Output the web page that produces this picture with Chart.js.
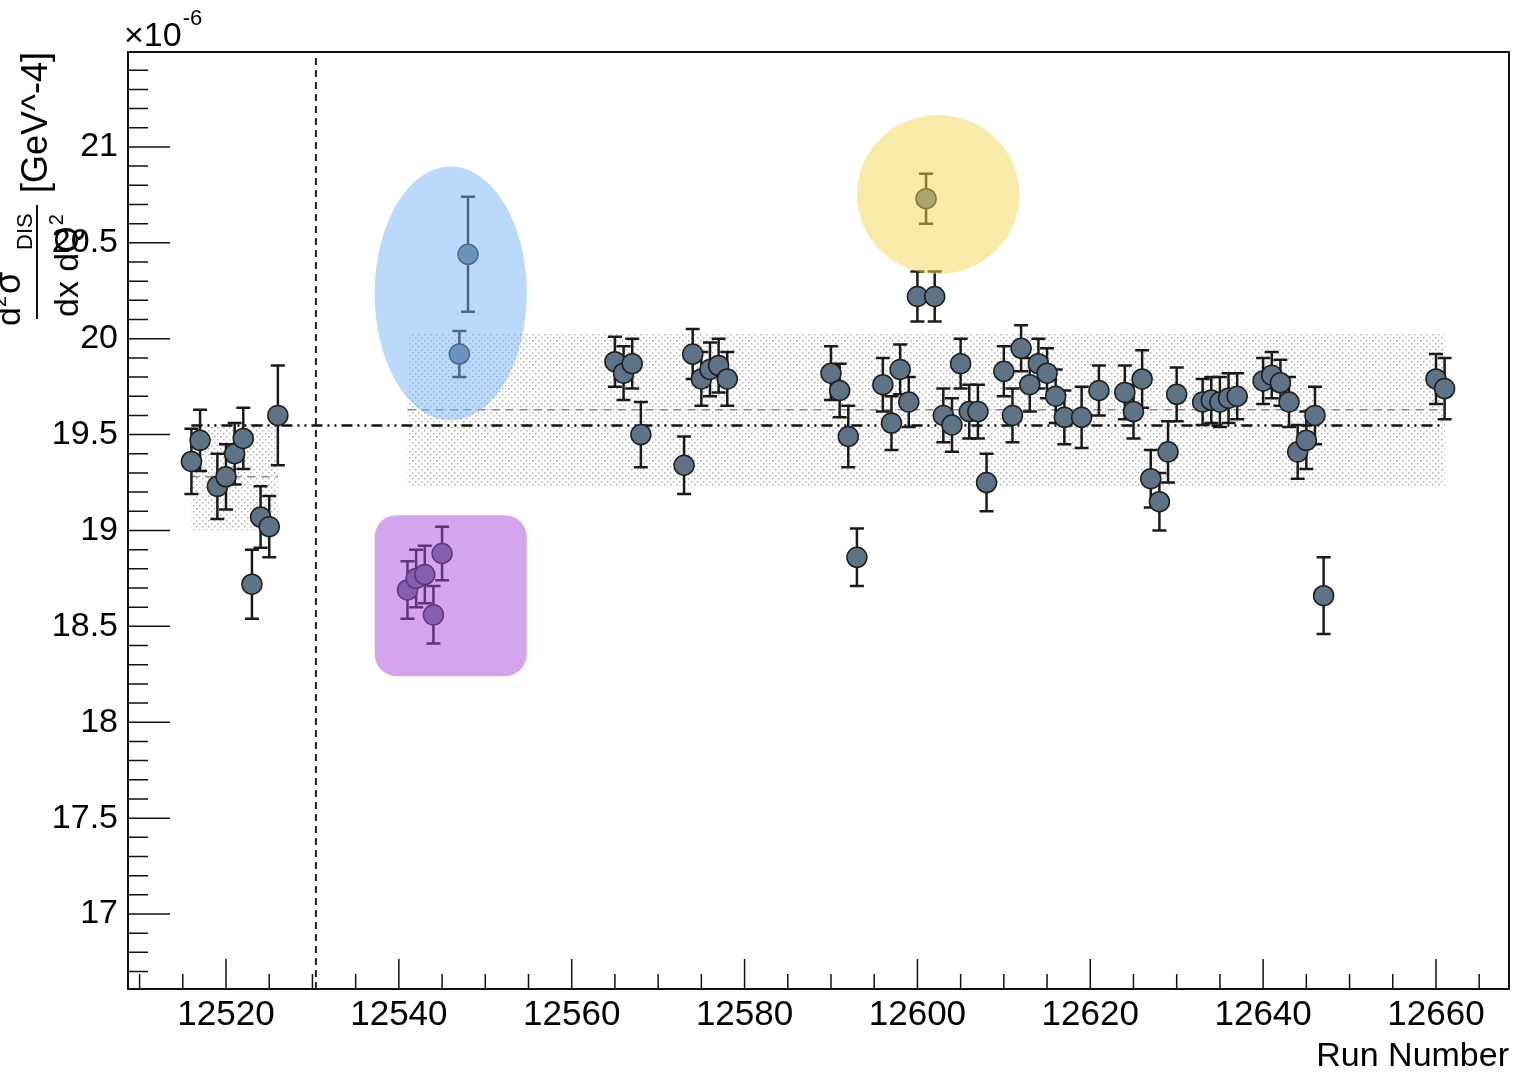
<!DOCTYPE html>
<html>
<head>
<meta charset="utf-8">
<script src="https://cdn.jsdelivr.net/npm/chart.js@4.4.1/dist/chart.umd.min.js"></script>
<style>
  html, body { margin: 0; padding: 0; background: #fff; overflow: hidden; }
  #wrap { width: 1514px; height: 1078px; }
  canvas { display: block; }
</style>
</head>
<body>
<div id="wrap"><canvas id="chart" width="1514" height="1078"></canvas></div>
<script>
// d2sigma/dxdQ2 per run, in units of 1e-6 GeV^-4
const earlyRuns   = [12516, 12517, 12519, 12520, 12521, 12522, 12523, 12524, 12525, 12526];
const earlyValues = [19.36, 19.47, 19.23, 19.28, 19.40, 19.48, 18.72, 19.07, 19.02, 19.60];
const earlyErrors = [0.17, 0.16, 0.17, 0.17, 0.16, 0.16, 0.18, 0.16, 0.16, 0.26];

const runs = [
  12541, 12542, 12543, 12544, 12545, 12547, 12548,
  12565, 12566, 12567, 12568, 12573, 12574, 12575, 12576, 12577, 12578,
  12590, 12591, 12592, 12593, 12596, 12597, 12598, 12599, 12600, 12601, 12602,
  12603, 12604, 12605, 12606, 12607, 12608, 12610, 12611, 12612, 12613, 12614,
  12615, 12616, 12617, 12619, 12621, 12624, 12625, 12626, 12627, 12628, 12629,
  12630, 12633, 12634, 12635, 12636, 12637, 12640, 12641, 12642, 12643, 12644,
  12645, 12646, 12647, 12660, 12661
];
const values = [
  18.69, 18.75, 18.77, 18.56, 18.88, 19.92, 20.44,
  19.88, 19.82, 19.87, 19.50, 19.34, 19.92, 19.79, 19.84, 19.86, 19.79,
  19.82, 19.73, 19.49, 18.86, 19.76, 19.56, 19.84, 19.67, 20.22, 20.73, 20.22,
  19.60, 19.55, 19.87, 19.62, 19.62, 19.25, 19.83, 19.60, 19.95, 19.76, 19.87,
  19.82, 19.70, 19.59, 19.59, 19.73, 19.72, 19.62, 19.79, 19.27, 19.15, 19.41,
  19.71, 19.67, 19.68, 19.67, 19.69, 19.70, 19.78, 19.81, 19.77, 19.67, 19.41,
  19.47, 19.60, 18.66, 19.79, 19.74
];
const errors = [
  0.15, 0.15, 0.15, 0.15, 0.14, 0.12, 0.30,
  0.13, 0.14, 0.13, 0.17, 0.15, 0.13, 0.14, 0.14, 0.14, 0.14,
  0.14, 0.14, 0.16, 0.15, 0.14, 0.14, 0.13, 0.13, 0.13, 0.13, 0.13,
  0.14, 0.14, 0.13, 0.14, 0.14, 0.15, 0.13, 0.14, 0.12, 0.14, 0.13,
  0.13, 0.14, 0.14, 0.16, 0.13, 0.14, 0.14, 0.15, 0.15, 0.15, 0.16,
  0.14, 0.12, 0.12, 0.13, 0.13, 0.12, 0.12, 0.12, 0.12, 0.13, 0.14,
  0.15, 0.15, 0.20, 0.13, 0.16
];

const xTicks = [12520, 12540, 12560, 12580, 12600, 12620, 12640, 12660];
const yTicks = [17, 17.5, 18, 18.5, 19, 19.5, 20, 20.5, 21];

// averages drawn as lines and +-spread bands
const earlyMean = 19.28, earlySpread = 0.28;
const mainMean = 19.63, mainSpread = 0.40;
const overallMean = 19.547;
const cutRun = 12530.4;

const FONT = '"Liberation Sans", Arial, Helvetica, sans-serif';

// highlight marks, in data units
const highlights = [
  { shape: 'ellipse', run: 12546.0, val: 20.236, dRun: 8.8, dVal: 0.662, color: 'rgba(120,180,245,0.5)' },
  { shape: 'ellipse', run: 12602.4, val: 20.752, dRun: 9.4, dVal: 0.415, color: 'rgba(242,213,82,0.5)' },
  { shape: 'rrect', run0: 12537.2, run1: 12554.8, val0: 18.24, val1: 19.08, color: 'rgba(170,75,218,0.5)' }
];

function stipple(ctx) {
  const c = document.createElement('canvas');
  c.width = 6; c.height = 6;
  const g = c.getContext('2d');
  g.fillStyle = 'rgba(110,110,110,0.55)';
  g.fillRect(1, 1, 1.5, 1.5);
  g.fillRect(4, 4, 1.5, 1.5);
  return ctx.createPattern(c, 'repeat');
}

const rootStyle = {
  id: 'rootStyle',
  beforeDatasetsDraw(chart) {
    const { ctx, chartArea: a, scales: { x, y } } = chart;
    ctx.save();
    ctx.beginPath();
    ctx.rect(a.left, a.top, a.right - a.left, a.bottom - a.top);
    ctx.clip();

    const pat = stipple(ctx);
    const band = (r0, r1, m, s) => {
      const x0 = x.getPixelForValue(r0), x1 = x.getPixelForValue(r1);
      const y0 = y.getPixelForValue(m + s), y1 = y.getPixelForValue(m - s);
      ctx.fillStyle = pat;
      ctx.fillRect(x0, y0, x1 - x0, y1 - y0);
    };
    band(earlyRuns[0], earlyRuns[earlyRuns.length - 1], earlyMean, earlySpread);
    band(runs[0], runs[runs.length - 1], mainMean, mainSpread);

    const hline = (r0, r1, v, dash, color, w) => {
      ctx.beginPath();
      ctx.setLineDash(dash);
      ctx.strokeStyle = color;
      ctx.lineWidth = w;
      const py = y.getPixelForValue(v);
      ctx.moveTo(x.getPixelForValue(r0), py);
      ctx.lineTo(x.getPixelForValue(r1), py);
      ctx.stroke();
    };
    hline(earlyRuns[0], earlyRuns[earlyRuns.length - 1], earlyMean, [8, 6], '#8a8a8a', 1.5);
    hline(runs[0], runs[runs.length - 1], mainMean, [8, 6], '#8a8a8a', 1.5);
    hline(earlyRuns[0], runs[runs.length - 1], overallMean, [11, 5, 2, 5, 2, 5], '#111', 2.5);

    // run cut
    ctx.beginPath();
    ctx.setLineDash([7, 5]);
    ctx.strokeStyle = '#222';
    ctx.lineWidth = 2;
    const cx = x.getPixelForValue(cutRun);
    ctx.moveTo(cx, a.top + 6);
    ctx.lineTo(cx, a.bottom);
    ctx.stroke();
    ctx.setLineDash([]);

    // error bars
    ctx.strokeStyle = '#1a1a1a';
    ctx.lineWidth = 2.5;
    const bars = (rs, vs, es) => rs.forEach((r, i) => {
      const px = x.getPixelForValue(r);
      const top = y.getPixelForValue(vs[i] + es[i]);
      const bot = y.getPixelForValue(vs[i] - es[i]);
      ctx.beginPath();
      ctx.moveTo(px, top); ctx.lineTo(px, bot);
      ctx.moveTo(px - 7, top); ctx.lineTo(px + 7, top);
      ctx.moveTo(px - 7, bot); ctx.lineTo(px + 7, bot);
      ctx.stroke();
    });
    bars(earlyRuns, earlyValues, earlyErrors);
    bars(runs, values, errors);
    ctx.restore();
  },
  afterDatasetsDraw(chart) {
    const { ctx, scales: { x, y } } = chart;
    ctx.save();
    highlights.forEach(h => {
      ctx.fillStyle = h.color;
      ctx.beginPath();
      if (h.shape === 'ellipse') {
        const cx = x.getPixelForValue(h.run), cy = y.getPixelForValue(h.val);
        const rx = x.getPixelForValue(h.run + h.dRun) - cx;
        const ry = cy - y.getPixelForValue(h.val + h.dVal);
        ctx.ellipse(cx, cy, rx, ry, 0, 0, Math.PI * 2);
      } else {
        const x0 = x.getPixelForValue(h.run0), x1 = x.getPixelForValue(h.run1);
        const y0 = y.getPixelForValue(h.val1), y1 = y.getPixelForValue(h.val0);
        ctx.roundRect(x0, y0, x1 - x0, y1 - y0, 22);
      }
      ctx.fill();
    });
    ctx.restore();
  },
  afterDraw(chart) {
    const { ctx, chartArea: a, scales: { x, y } } = chart;
    ctx.save();
    ctx.strokeStyle = '#111';
    ctx.lineWidth = 2;
    ctx.strokeRect(a.left, a.top, a.right - a.left, a.bottom - a.top);

    // ticks drawn inward, ROOT style
    ctx.lineWidth = 1.5;
    ctx.beginPath();
    for (let k = 167; k <= 214; k++) {
      const py = y.getPixelForValue(k / 10);
      ctx.moveTo(a.left, py);
      ctx.lineTo(a.left + (k % 5 === 0 ? 42 : 20), py);
    }
    for (let r = 12510; r <= 12665; r += 5) {
      const px = x.getPixelForValue(r);
      ctx.moveTo(px, a.bottom);
      ctx.lineTo(px, a.bottom - (r % 20 === 0 ? 30 : 15));
    }
    ctx.stroke();

    // exponent
    ctx.fillStyle = '#000';
    ctx.textBaseline = 'alphabetic';
    ctx.textAlign = 'left';
    ctx.font = `34px ${FONT}`;
    ctx.fillText('\u00d710', 124, 46);
    const w = ctx.measureText('\u00d710').width;
    ctx.font = `22px ${FONT}`;
    ctx.fillText('-6', 124 + w + 1, 25);

    // y title: d2sigma_DIS / dx dQ2 [GeV^-4]
    ctx.translate(37, 262);
    ctx.rotate(-Math.PI / 2);
    ctx.lineWidth = 2;
    ctx.beginPath();
    ctx.moveTo(-57, 0); ctx.lineTo(57, 0);
    ctx.stroke();
    let u = -64;
    ctx.font = `34px ${FONT}`;
    ctx.fillText('d', u, -17); u += ctx.measureText('d').width;
    ctx.font = `20px ${FONT}`;
    ctx.fillText('2', u, -31); u += ctx.measureText('2').width + 2;
    ctx.font = `36px ${FONT}`;
    ctx.fillText('\u03c3', u, -17); u += ctx.measureText('\u03c3').width;
    ctx.font = `22px ${FONT}`;
    ctx.fillText('DIS', 12, -5);
    ctx.font = `34px ${FONT}`;
    ctx.fillText('dx dQ', -55, 41);
    const dw = ctx.measureText('dx dQ').width;
    ctx.font = `20px ${FONT}`;
    ctx.fillText('2', -55 + dw + 1, 26);
    ctx.font = `36px ${FONT}`;
    ctx.fillText('[GeV^-4]', 69, 10);
    ctx.restore();
  }
};

const point = {
  pointRadius: 10,
  pointHoverRadius: 10,
  backgroundColor: '#5f7387',
  borderColor: '#1e1e1e',
  borderWidth: 1.5,
  showLine: false
};

new Chart(document.getElementById('chart'), {
  type: 'scatter',
  data: {
    datasets: [
      { label: 'early runs', data: earlyRuns.map((r, i) => ({ x: r, y: earlyValues[i] })), ...point },
      { label: 'runs', data: runs.map((r, i) => ({ x: r, y: values[i] })), ...point }
    ]
  },
  options: {
    responsive: false,
    animation: false,
    devicePixelRatio: 1,
    layout: { autoPadding: false, padding: { top: 52, right: 5, left: 0, bottom: 0 } },
    plugins: { legend: { display: false }, tooltip: { enabled: false } },
    scales: {
      x: {
        type: 'linear',
        min: 12508.66,
        max: 12668.45,
        afterBuildTicks: s => { s.ticks = xTicks.map(v => ({ value: v })); },
        afterFit: s => { s.height = 89; },
        grid: { display: false, drawTicks: false },
        border: { display: false },
        ticks: {
          font: { family: FONT, size: 35 },
          color: '#000',
          padding: 5,
          maxRotation: 0,
          autoSkip: false,
          callback: v => String(v)
        },
        title: {
          display: true,
          text: 'Run Number',
          align: 'end',
          color: '#000',
          font: { family: FONT, size: 34 },
          padding: { top: 0, bottom: 1 }
        }
      },
      y: {
        min: 16.609,
        max: 21.495,
        afterBuildTicks: s => { s.ticks = yTicks.map(v => ({ value: v })); },
        afterFit: s => { s.width = 128; },
        grid: { display: false, drawTicks: false },
        border: { display: false },
        ticks: {
          font: { family: FONT, size: 34 },
          color: '#000',
          padding: 10,
          callback: v => String(v)
        }
      }
    }
  },
  plugins: [rootStyle]
});
</script>
</body>
</html>
